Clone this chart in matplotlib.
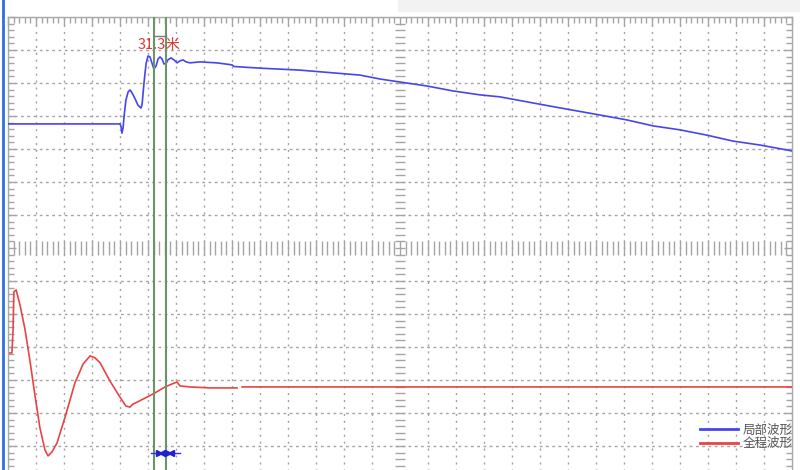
import numpy as np
import matplotlib
matplotlib.use("Agg")
import matplotlib.pyplot as plt
from matplotlib.lines import Line2D
from matplotlib.patches import Rectangle

plt.rcParams['font.family'] = ['Noto Sans CJK SC', 'DejaVu Sans']

# screen units: 28 x 14 divisions, centre of screen at (14, 0)
# local waveform (upper trace)
local_x = [0.0, 4.0, 4.04, 4.07, 4.11, 4.14, 4.21, 4.29, 4.36, 4.43, 4.54, 4.64, 4.75,
           4.79, 4.86, 4.93, 5.0, 5.07, 5.14, 5.21, 5.29, 5.36, 5.43, 5.5, 5.57, 5.64,
           5.71, 5.82, 5.93, 6.04, 6.14, 6.25, 6.36, 6.5, 6.86, 7.46, 8.0, 8.07, 9.0,
           10.43, 12.57, 13.29, 14.0, 14.96, 15.89, 16.86, 17.57, 19.36, 21.14, 22.11,
           23.04, 24.0, 24.96, 25.89, 26.86, 27.82, 28.0]
local_y = [3.76, 3.76, 3.67, 3.48, 3.64, 3.94, 4.48, 4.73, 4.79, 4.7, 4.52, 4.33, 4.24,
           4.36, 5.03, 5.58, 5.82, 5.79, 5.61, 5.42, 5.52, 5.73, 5.79, 5.73, 5.58, 5.58,
           5.7, 5.76, 5.7, 5.61, 5.67, 5.7, 5.64, 5.61, 5.64, 5.61, 5.55, 5.5, 5.45,
           5.39, 5.24, 5.12, 5.03, 4.91, 4.76, 4.64, 4.58, 4.3, 4.03, 3.88,
           3.7, 3.58, 3.42, 3.24, 3.12, 2.97, 2.94]

# full waveform (lower trace), gap in the record near 8.2
full_x = [0.07, 0.14, 0.18, 0.21, 0.29, 0.43, 0.61, 0.79, 0.96, 1.14, 1.32, 1.43, 1.57,
          1.75, 2.04, 2.39, 2.68, 2.93, 3.11, 3.29, 3.64, 4.0, 4.21, 4.36, 4.46, 4.54,
          4.89, 5.25, 5.61, 5.86, 6.04, 6.14, 6.5, 7.21, 8.18, 8.22, 8.36, 28.0]
full_y = [-3.18, -3.18, -2.48, -1.33, -1.27, -1.73, -2.48, -3.45, -4.45, -5.45, -6.12,
          -6.3, -6.18, -5.91, -5.12, -4.09, -3.52, -3.27, -3.33, -3.48, -4.03, -4.52,
          -4.79, -4.82, -4.73, -4.7, -4.55, -4.39, -4.21, -4.12, -4.06, -4.18, -4.21,
          -4.24, -4.24, np.nan, -4.21, -4.21]

cursor_x = [5.21, 5.64]
cursor_label = "31.3米"
legend_labels = ["局部波形", "全程波形"]

fig = plt.figure(figsize=(8, 4.7), dpi=100)
fig.patch.set_facecolor('white')
ax = fig.add_axes([8 / 800, 1 - 479 / 470, 784 / 800, 462 / 470])
ax.set_xlim(0, 28)
ax.set_ylim(-7, 7)

grey = '#a4a4a4'
for s in ax.spines.values():
    s.set_color('#a8a8a8')
    s.set_linewidth(1)

ax.set_xticks(np.arange(0, 29, 1))
ax.set_xticks(np.arange(0, 28.01, 0.2), minor=True)
ax.set_yticks(np.arange(-7, 8, 1))
ax.set_yticks(np.arange(-7, 7.01, 0.2), minor=True)
ax.tick_params(which='both', direction='in', top=True, bottom=True, left=True, right=True,
               labelbottom=False, labelleft=False, color=grey, width=1)
ax.tick_params(which='major', length=6)
ax.tick_params(which='minor', length=4.5)

# dashed grid, centre lines carry ticks instead
gx = [v for v in range(1, 28) if v != 14]
gy = [v for v in range(-6, 7) if v != 0]
ax.vlines(gx, -7, 7, colors=grey, linewidth=1, linestyles=(0, (1.5, 3.5)), zorder=1)
ax.hlines(gy, 0, 28, colors=grey, linewidth=1, linestyles=(0, (2, 2.5)), zorder=1)

# centre axes ticks
cx = np.arange(0, 28.01, 0.2)
ax.vlines(cx, -0.2, 0.2, colors=grey, linewidth=1, zorder=1)
cy = np.arange(-7, 7.01, 0.2)
ax.hlines(cy, 14 - 0.18, 14 + 0.18, colors=grey, linewidth=1, zorder=1)

l1, = ax.plot(local_x, local_y, color='#4646ee', lw=1.2, zorder=3)
l2, = ax.plot(full_x, full_y, color='#e84444', lw=1.2, zorder=3)

# cursors
ax.text(sum(cursor_x) / 2 - 0.04, 6.15, cursor_label, color='#e03a3a', fontsize=10.5,
        ha='center', va='center', zorder=4)
for cxp in cursor_x:
    ax.axvline(cxp, color='#6a956a', lw=1.5, zorder=5)
ax.plot(cursor_x, [6.42, 6.42], color='#7a7a7a', lw=1, zorder=5)
ax.plot([5.11, 6.14], [-6.21, -6.21], color='#3030e0', lw=1, zorder=6)
ax.plot([5.39, 5.71], [-6.21, -6.21], '>', color='#2020d0', ms=4, zorder=6)
ax.plot([5.5, 5.82], [-6.21, -6.21], '<', color='#2020d0', ms=4, zorder=6)

leg = ax.legend([l1, l2], legend_labels, loc='upper left', bbox_to_anchor=(0.883, 0.12),
                frameon=False, fontsize=9, handlelength=3.0, handletextpad=0.4,
                labelspacing=0.05, borderpad=0, borderaxespad=0)
for t in leg.get_texts():
    t.set_color('#555555')
for h in leg.get_lines():
    h.set_linewidth(2)

# window chrome
fig.add_artist(Line2D([2.5 / 800, 2.5 / 800], [0, 1], color='#2f6fe0', lw=2))
fig.patches.append(Rectangle((398 / 800, 1 - 11 / 470), 402 / 800, 11 / 470,
                             transform=fig.transFigure, color='#f2f2f2', zorder=0))

fig.savefig("out.png", dpi=100)
